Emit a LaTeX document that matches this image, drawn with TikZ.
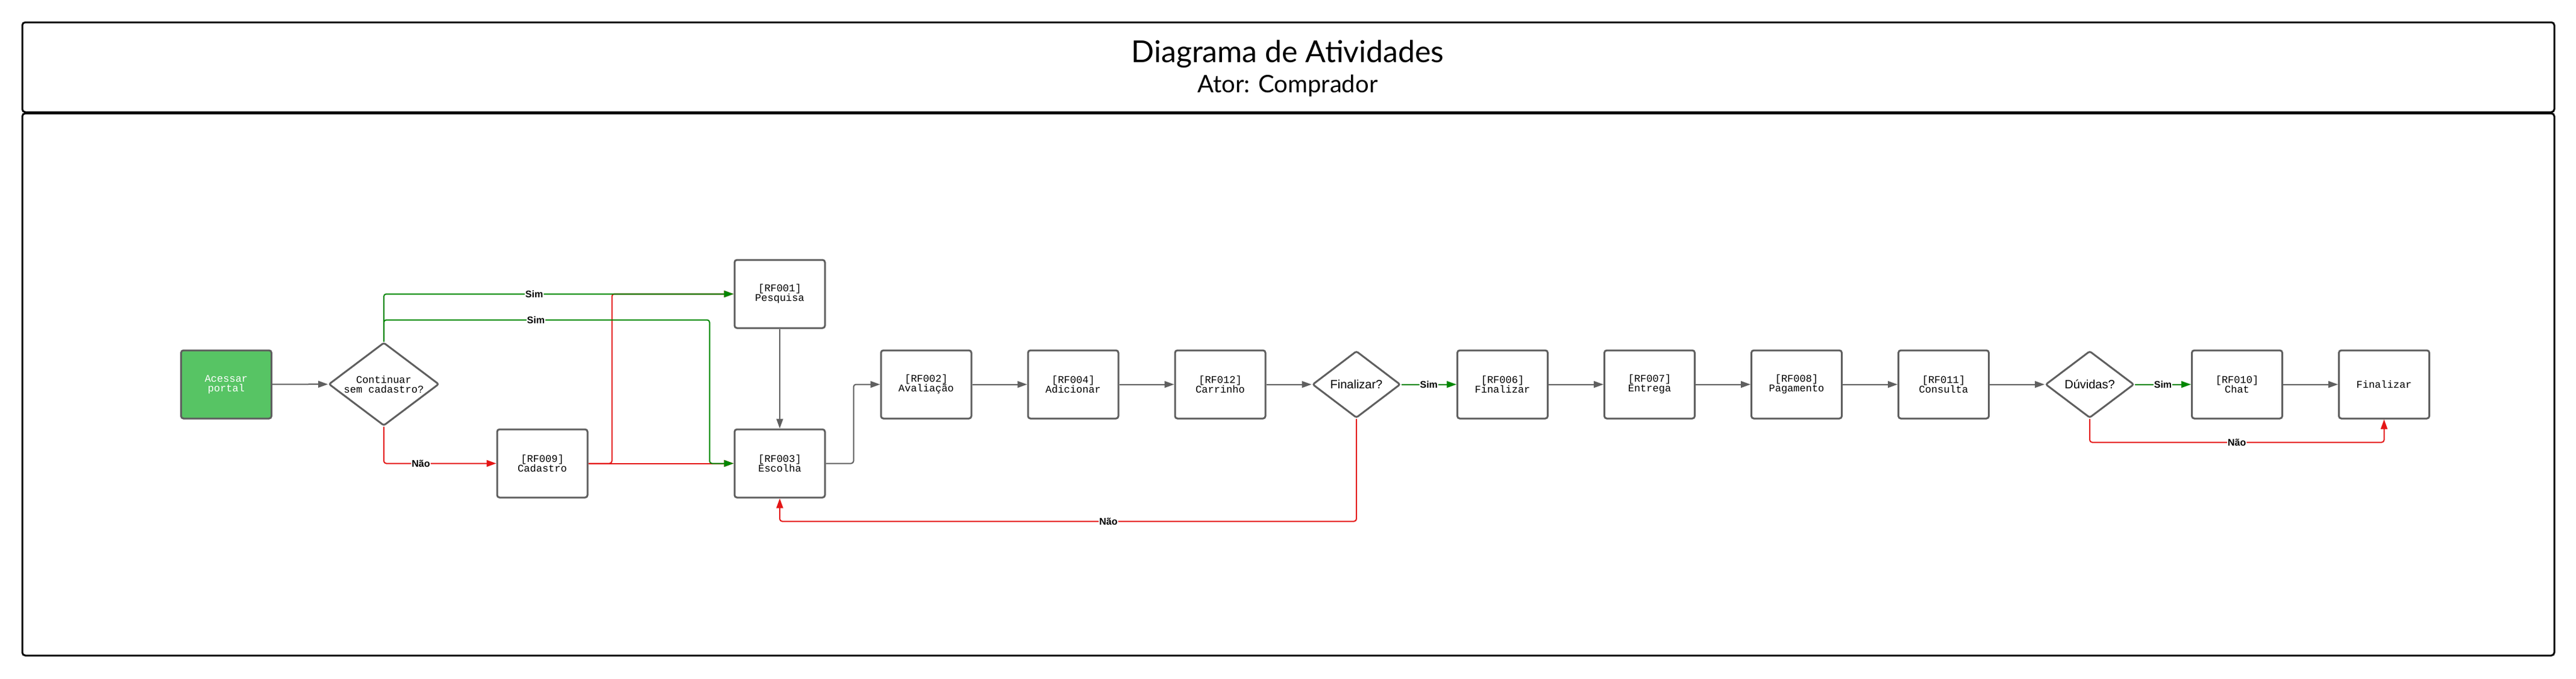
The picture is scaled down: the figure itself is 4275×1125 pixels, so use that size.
\documentclass[tikz,border=0pt]{standalone}
\usepackage{fontspec}
\setmainfont{Liberation Sans}
\newfontfamily\monofont{Liberation Mono}
\newfontfamily\titlefont{Lato}
\usetikzlibrary{shapes.geometric,arrows.meta,calc}
\definecolor{boxgray}{RGB}{95,95,95}
\definecolor{okgreen}{RGB}{0,135,0}
\definecolor{nored}{RGB}{228,22,22}
\definecolor{startgreen}{RGB}{87,196,100}
\begin{document}
\begin{tikzpicture}[x=1pt,y=-1pt,
  stepbox/.style={draw=boxgray, line width=3pt, rounded corners=4pt, fill=white,
    minimum width=150pt, minimum height=113pt, inner sep=0pt, align=center,
    font=\monofont\fontsize{17pt}{16pt}\selectfont},
  startbox/.style={stepbox, fill=startgreen, text=white},
  decision/.style={diamond, draw=boxgray, line width=3pt, rounded corners=3pt, fill=white,
    inner sep=0pt, align=center},
  conn/.style={draw=boxgray, line width=2pt, rounded corners=4pt, line join=round,
    -{Triangle[length=16pt,width=11pt]}},
  yes/.style={conn, draw=okgreen},
  no/.style={conn, draw=nored},
  lbl/.style={fill=white, inner sep=1pt, text=black,
    font=\bfseries\fontsize{16pt}{16pt}\selectfont},
  framebox/.style={draw=black, line width=3pt, rounded corners=5pt}
]
\useasboundingbox (0,0) rectangle (4275,1125);
\fill[white] (0,0) rectangle (4275,1125);

% frame
\draw[framebox] (37,37) rectangle (4239,186);
\draw[framebox] (37,188) rectangle (4239,1087);
\node[font=\titlefont\fontsize{50pt}{50pt}\selectfont] (title) at (2137,90) {Diagrama de Atividades};
\node[font=\titlefont\fontsize{40pt}{40pt}\selectfont] (sub) at (2137,142) {Ator: Comprador};

% nodes
\node[startbox] (acc) at (375.5,637.5) {Acessar\\portal};
\node[decision, minimum width=183pt, minimum height=138pt, aspect=1.33,
  font=\monofont\fontsize{17pt}{16pt}\selectfont] (dec1) at (637,637) {Continuar\\sem cadastro?};
\node[stepbox] (pes) at (1294,487.5) {[RF001]\\Pesquisa};
\node[stepbox] (cad) at (900,768.5) {[RF009]\\Cadastro};
\node[stepbox] (esc) at (1294,768.5) {[RF003]\\Escolha};
\node[stepbox] (ava) at (1537,637.5) {[RF002]\\Avaliação};
\node[stepbox] (adi) at (1781,637.5) {[RF004]\\Adicionar};
\node[stepbox] (car) at (2025,637.5) {[RF012]\\Carrinho};
\node[decision, minimum width=146pt, minimum height=111pt, aspect=1.3,
  font=\fontsize{20pt}{20pt}\selectfont] (dec2) at (2251,637.5) {Finalizar?};
\node[stepbox] (fin) at (2493.5,637.5) {[RF006]\\Finalizar};
\node[stepbox] (ent) at (2737.5,637.5) {[RF007]\\Entrega};
\node[stepbox] (pag) at (2981.5,637.5) {[RF008]\\Pagamento};
\node[stepbox] (con) at (3225.5,637.5) {[RF011]\\Consulta};
\node[decision, minimum width=147pt, minimum height=111pt, aspect=1.3,
  font=\fontsize{20pt}{20pt}\selectfont] (dec3) at (3468,637.5) {Dúvidas?};
\node[stepbox] (cha) at (3712.5,637.5) {[RF010]\\Chat};
\node[stepbox] (fim) at (3956.5,637.5) {Finalizar};

% helper corner points
\coordinate (c1) at ($(cad.east)+(39,0)$);
\coordinate (g1) at (dec1.north |- pes.west);
\coordinate (g2a) at ($(g1)+(0,43)$);
\coordinate (g2b) at ($(esc.west)+(-40,0)$);
\coordinate (e1) at ($(esc.east)+(46,0)$);
\coordinate (n1) at ($(dec2.south)+(0,170)$);
\coordinate (n2) at ($(dec3.south)+(0,39)$);

% connectors
\draw[conn] (acc) -- (dec1);
\draw[no] (dec1.south) -- (dec1.south |- cad.west) -- node[lbl, pos=0.33]{Não} (cad.west);
\draw[no] (cad.east) -- (esc.west);
\draw[no] (cad.east) -- (c1) -- (c1 |- pes.west) -- (pes.west);
\draw[yes] (dec1.north) -- (g1) -- node[lbl, pos=0.43]{Sim} (pes.west);
\draw[yes] (dec1.north) -- (g2a) -- node[lbl, pos=0.467]{Sim} (g2b |- g2a) -- (g2b) -- (esc.west);
\draw[conn] (pes) -- (esc);
\draw[conn] (esc.east) -- (e1) -- (e1 |- ava.west) -- (ava.west);
\draw[conn] (ava) -- (adi);
\draw[conn] (adi) -- (car);
\draw[conn] (car) -- (dec2);
\draw[yes] (dec2) -- node[lbl]{Sim} (fin);
\draw[no] (dec2.south) -- (n1) -- node[lbl, pos=0.43]{Não} (n1 -| esc.south) -- (esc.south);
\draw[conn] (fin) -- (ent);
\draw[conn] (ent) -- (pag);
\draw[conn] (pag) -- (con);
\draw[conn] (con) -- (dec3);
\draw[yes] (dec3) -- node[lbl]{Sim} (cha);
\draw[no] (dec3.south) -- (n2) -- node[lbl]{Não} (n2 -| fim.south) -- (fim.south);
\draw[conn] (cha) -- (fim);
\end{tikzpicture}
\end{document}
